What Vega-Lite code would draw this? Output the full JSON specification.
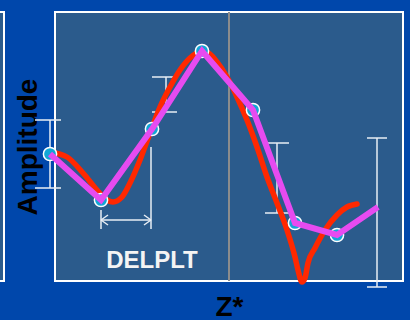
{
  "$schema": "https://vega.github.io/schema/vega-lite/v6.json",
  "autosize": {"type": "none"},
  "width": 348,
  "height": 269,
  "padding": {"left": 55, "top": 12, "right": 7, "bottom": 39},
  "background": "#0047ab",
  "config": {"view": {"fill": "#2b5b8c", "stroke": "white", "strokeWidth": 2}},
  "datasets": {
    "red": [
      {"i":1,"z":-5,"a":129},{"i":2,"z":12,"a":124},{"i":3,"z":28,"a":108},{"i":4,"z":42,"a":91},
      {"i":5,"z":52,"a":81},{"i":6,"z":58,"a":79},{"i":7,"z":67,"a":84},{"i":8,"z":75,"a":98},
      {"i":9,"z":85,"a":121},{"i":10,"z":95,"a":148},{"i":11,"z":105,"a":174},{"i":12,"z":115,"a":194},
      {"i":13,"z":125,"a":211},{"i":14,"z":135,"a":223},{"i":15,"z":145,"a":229},{"i":16,"z":153,"a":228},
      {"i":17,"z":162,"a":219},{"i":18,"z":172,"a":204},{"i":19,"z":182,"a":184},{"i":20,"z":192,"a":161},
      {"i":21,"z":202,"a":134},{"i":22,"z":212,"a":104},{"i":23,"z":222,"a":78},{"i":24,"z":232,"a":51},
      {"i":25,"z":240,"a":24},{"i":26,"z":243,"a":11},{"i":27,"z":247,"a":-1},{"i":28,"z":250,"a":3},
      {"i":29,"z":253,"a":18},{"i":30,"z":260,"a":33},{"i":31,"z":270,"a":51},{"i":32,"z":282,"a":66},
      {"i":33,"z":292,"a":74},{"i":34,"z":302,"a":77}
    ],
    "mag": [
      {"i":1,"z":-5,"a":127},{"i":2,"z":46,"a":81},{"i":3,"z":97,"a":152},{"i":4,"z":147,"a":230},
      {"i":5,"z":198,"a":171},{"i":6,"z":240,"a":58},{"i":7,"z":282,"a":46},{"i":8,"z":323,"a":74}
    ],
    "segs": [
      {"z":-5,"a":161,"z2":-5,"a2":93},{"z":-20,"a":161,"z2":6,"a2":161},{"z":-20,"a":93,"z2":6,"a2":93},
      {"z":111,"a":204,"z2":111,"a2":169},{"z":97,"a":204,"z2":122,"a2":204},{"z":97,"a":169,"z2":122,"a2":169},
      {"z":222,"a":138,"z2":222,"a2":68},{"z":210,"a":138,"z2":234,"a2":138},{"z":210,"a":68,"z2":234,"a2":68},
      {"z":322,"a":143,"z2":322,"a2":-6},{"z":312,"a":143,"z2":332,"a2":143},{"z":312,"a":-6,"z2":332,"a2":-6},
      {"z":46,"a":71,"z2":46,"a2":52},{"z":96,"a":134,"z2":96,"a2":52},{"z":46,"a":61,"z2":96,"a2":61},
      {"z":53,"a":66,"z2":46,"a2":61},{"z":53,"a":56,"z2":46,"a2":61},
      {"z":89,"a":66,"z2":96,"a2":61},{"z":89,"a":56,"z2":96,"a2":61}
    ]
  },
  "encoding": {
    "x": {"type": "quantitative", "scale": {"domain": [0, 348], "nice": false, "zero": false}},
    "y": {"type": "quantitative", "scale": {"domain": [0, 269], "nice": false, "zero": false}}
  },
  "layer": [
    {
      "data": {"values": [{"z": -70, "z2": -51, "a": 0, "a2": 269}]},
      "mark": {"type": "rect", "fill": "#2b5b8c", "stroke": "white", "strokeWidth": 2, "clip": false},
      "encoding": {
        "x": {"field": "z", "type": "quantitative", "axis": {"title": "Z*", "labels": false, "ticks": false, "domain": false, "grid": false, "titleFont": "Liberation Sans", "titleFontSize": 28, "titleFontWeight": "bold", "titleColor": "black", "titlePadding": 12}},
        "x2": {"field": "z2"},
        "y": {"field": "a", "type": "quantitative", "axis": {"title": "Amplitude", "labels": false, "ticks": false, "domain": false, "grid": false, "titleFont": "Liberation Sans", "titleFontSize": 28, "titleFontWeight": "bold", "titleColor": "black", "titlePadding": 13}},
        "y2": {"field": "a2"}
      }
    },
    {
      "data": {"values": [{"z": 174, "a": 0, "a2": 269}]},
      "mark": {"type": "rule", "color": "#8c8c8c", "strokeWidth": 2},
      "encoding": {
        "x": {"field": "z", "type": "quantitative"},
        "y": {"field": "a", "type": "quantitative"},
        "y2": {"field": "a2"}
      }
    },
    {
      "data": {"name": "segs"},
      "mark": {"type": "rule", "color": "#e8eef5", "strokeWidth": 1.5, "clip": false},
      "encoding": {
        "x": {"field": "z", "type": "quantitative"},
        "x2": {"field": "z2"},
        "y": {"field": "a", "type": "quantitative"},
        "y2": {"field": "a2"}
      }
    },
    {
      "data": {"name": "red"},
      "mark": {"type": "line", "color": "#ff2800", "strokeWidth": 5.5, "interpolate": "monotone", "clip": false, "strokeCap": "round"},
      "encoding": {
        "x": {"field": "z", "type": "quantitative"},
        "y": {"field": "a", "type": "quantitative"},
        "order": {"field": "i"}
      }
    },
    {
      "data": {"name": "mag"},
      "transform": [{"filter": "datum.i <= 7"}],
      "mark": {"type": "point", "filled": true, "fill": "#12a6d6", "stroke": "white", "strokeWidth": 1.5, "size": 175, "opacity": 1, "clip": false},
      "encoding": {
        "x": {"field": "z", "type": "quantitative"},
        "y": {"field": "a", "type": "quantitative"}
      }
    },
    {
      "data": {"name": "mag"},
      "mark": {"type": "line", "color": "#e64bf0", "strokeWidth": 6, "clip": false},
      "encoding": {
        "x": {"field": "z", "type": "quantitative"},
        "y": {"field": "a", "type": "quantitative"},
        "order": {"field": "i"}
      }
    },
    {
      "data": {"values": [{"z": 97, "a": 13, "label": "DELPLT"}]},
      "mark": {"type": "text", "font": "Liberation Sans", "fontWeight": "bold", "fontSize": 24, "color": "#f4f4f4", "baseline": "alphabetic", "align": "center"},
      "encoding": {
        "x": {"field": "z", "type": "quantitative"},
        "y": {"field": "a", "type": "quantitative"},
        "text": {"field": "label"}
      }
    }
  ]
}
